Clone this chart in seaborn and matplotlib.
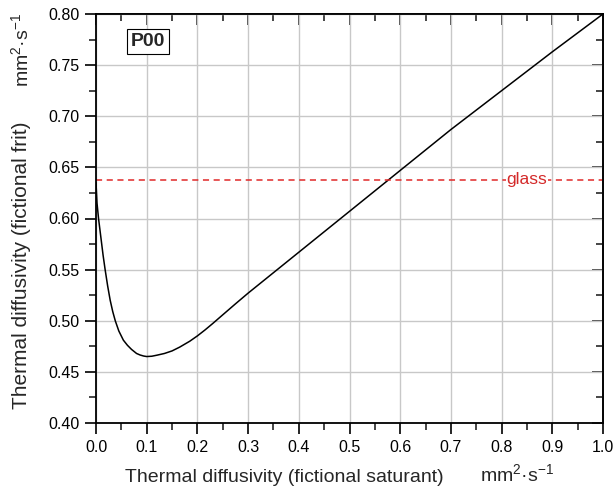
import numpy as np
import pandas as pd
import matplotlib
matplotlib.use("Agg")
import matplotlib.pyplot as plt
import seaborn as sns
from matplotlib.ticker import MultipleLocator

x_vals = [0.0, 0.002, 0.005, 0.01, 0.014, 0.018, 0.023, 0.028, 0.033, 0.038,
          0.045, 0.054, 0.062, 0.07, 0.08, 0.087, 0.094, 0.10, 0.11, 0.12,
          0.135, 0.15, 0.165, 0.185, 0.2, 0.215, 0.23, 0.25, 0.275, 0.3, 0.35,
          0.4, 0.5, 0.6, 0.7, 0.8, 0.9, 1.0]
y_vals = [0.635, 0.615, 0.600, 0.580, 0.564, 0.550, 0.534, 0.520, 0.509, 0.500,
          0.490, 0.481, 0.476, 0.472, 0.468, 0.4665, 0.4655, 0.465, 0.4653, 0.4663,
          0.468, 0.4705, 0.4742, 0.4800, 0.4852, 0.4910, 0.4972, 0.5058, 0.5165,
          0.527, 0.547, 0.567, 0.607, 0.647, 0.687, 0.725, 0.763, 0.800]
glass_level = 0.638
x_ticks = [0.0, 0.1, 0.2, 0.3, 0.4, 0.5, 0.6, 0.7, 0.8, 0.9, 1.0]
y_ticks = [0.40, 0.45, 0.50, 0.55, 0.60, 0.65, 0.70, 0.75, 0.80]

sns.set_theme(style="white")
plt.rcParams['font.family'] = ['Liberation Sans', 'DejaVu Sans']
plt.rcParams['mathtext.fontset'] = 'custom'
plt.rcParams['mathtext.rm'] = 'Liberation Sans'

df = pd.DataFrame({"x": x_vals, "y": y_vals})

fig = plt.figure(figsize=(6.15, 4.91), dpi=100)
ax = fig.add_axes([96/615, 1-423/491, 507/615, 409/491])

ax.grid(True, color="#c8c8c8", linewidth=1.0)
ax.set_axisbelow(True)
sns.lineplot(data=df, x="x", y="y", ax=ax, color="black", linewidth=1.1)
ax.axhline(glass_level, color="#e02828", linestyle=(0, (4, 3)), linewidth=1.1)
ax.text(0.85, glass_level, "glass", color="#d42a2a", fontsize=12.5,
        ha="center", va="center",
        bbox=dict(facecolor="white", edgecolor="none", pad=0.5))
ax.text(0.103, 0.773, "P00", fontsize=14, fontweight="bold", ha="center",
        va="center", bbox=dict(facecolor="white", edgecolor="black",
                               linewidth=0.8, pad=3))

ax.set_xlim(0, 1)
ax.set_ylim(0.40, 0.80)
ax.set_xticks(x_ticks)
ax.set_yticks(y_ticks)
ax.set_xticklabels([f"{t:.1f}" for t in x_ticks])
ax.set_yticklabels([f"{t:.2f}" for t in y_ticks])
ax.xaxis.set_minor_locator(MultipleLocator(0.05))
ax.yaxis.set_minor_locator(MultipleLocator(0.025))
ax.tick_params(which="major", direction="out", length=8, width=1.2,
               labelsize=11.5, colors="black", left=True, bottom=True, pad=4)
ax.tick_params(which="minor", direction="out", length=5, width=1.2,
               left=True, bottom=True)
ax.set_xlabel("")
ax.set_ylabel("")
for s in ax.spines.values():
    s.set_visible(True)
    s.set_color("black")
    s.set_linewidth(1.3)

top = ax.secondary_xaxis("top")
top.set_xticks(x_ticks)
top.xaxis.set_minor_locator(MultipleLocator(0.05))
top.tick_params(which="major", direction="in", length=8, width=1.2, labeltop=False)
top.tick_params(which="minor", direction="in", length=5, width=1.2)
top.set_xticklabels([])
right = ax.secondary_yaxis("right")
right.set_yticks(y_ticks)
right.yaxis.set_minor_locator(MultipleLocator(0.025))
right.tick_params(which="major", direction="in", length=8, width=1.2, labelright=False)
right.tick_params(which="minor", direction="in", length=5, width=1.2)
right.set_yticklabels([])

unit = r"mm$^{\mathregular{2}}$·s$^{\mathregular{-1}}$"
fig.text(125/615, 1-477/491, "Thermal diffusivity (fictional saturant)",
         fontsize=14, ha="left", va="center")
fig.text(480/615, 1-475/491, unit, fontsize=14, ha="left", va="center")
fig.text(22/615, 1-265/491, "Thermal diffusivity (fictional frit)",
         fontsize=15, ha="center", va="center", rotation=90)
fig.text(22/615, 1-50/491, unit, fontsize=14, ha="center", va="center",
         rotation=90)

fig.savefig("out.png", dpi=100)
